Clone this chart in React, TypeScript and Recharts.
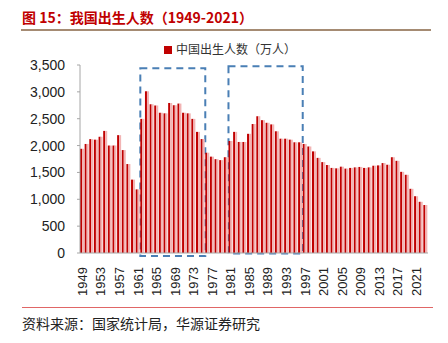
import { BarChart, Bar, XAxis, YAxis, Legend, ReferenceArea } from 'recharts'

const years = [
  '1949', '1950', '1951', '1952', '1953', '1954', '1955', '1956', '1957', '1958',
  '1959', '1960', '1961', '1962', '1963', '1964', '1965', '1966', '1967', '1968',
  '1969', '1970', '1971', '1972', '1973', '1974', '1975', '1976', '1977', '1978',
  '1979', '1980', '1981', '1982', '1983', '1984', '1985', '1986', '1987', '1988',
  '1989', '1990', '1991', '1992', '1993', '1994', '1995', '1996', '1997', '1998',
  '1999', '2000', '2001', '2002', '2003', '2004', '2005', '2006', '2007', '2008',
  '2009', '2010', '2011', '2012', '2013', '2014', '2015', '2016', '2017', '2018',
  '2019', '2020', '2021', '2022', '2023',
]

// 出生人数（万人）
const births = [
  1940, 2030, 2120, 2110, 2164, 2273, 2001, 2001, 2194, 1916,
  1656, 1366, 1184, 2497, 3011, 2769, 2746, 2611, 2600, 2793,
  2751, 2782, 2611, 2600, 2497, 2255, 2121, 1867, 1794, 1747,
  1729, 1783, 2085, 2255, 2067, 2067, 2219, 2401, 2546, 2473,
  2424, 2394, 2266, 2128, 2128, 2110, 2061, 2061, 2030, 1983,
  1892, 1771, 1692, 1638, 1584, 1576, 1607, 1571, 1584, 1594,
  1602, 1584, 1594, 1625, 1631, 1674, 1643, 1783, 1716, 1511,
  1456, 1195, 1057, 953, 893,
]

const yTicks = [0, 500, 1000, 1500, 2000, 2500, 3000, 3500]

const data = years.map((year, i) => ({ year, births: births[i] }))

const FONT = "'Liberation Sans', Arial, 'Noto Sans CJK SC', sans-serif"
const CJK = "'Noto Sans CJK SC', sans-serif"

function ShadowBar(props: any) {
  const { x, y, width, height } = props
  if (!height || height <= 0) return null
  const w1 = width * 0.5
  return (
    <g>
      <rect x={x} y={y} width={w1} height={height} fill="#c00000" />
      <rect x={x + w1} y={y} width={width - w1} height={height} fill="#f2b4b4" />
    </g>
  )
}

function YearTick(props: any) {
  const { x, y, payload } = props
  return (
    <text
      transform={`translate(${x},${y + 6}) rotate(-90)`}
      textAnchor="end"
      dominantBaseline="central"
      fontSize={13}
      fill="#222"
      fontFamily={FONT}
    >
      {payload.value}
    </text>
  )
}

export default function App() {
  return (
    <div style={{ position: 'absolute', left: 0, top: 0, width: 448, height: 343, background: '#fff', fontFamily: FONT }}>
      <div style={{ position: 'absolute', left: 22, top: 8, fontSize: 14, lineHeight: '18px', fontWeight: 'bold', color: '#c00000', fontFamily: CJK, whiteSpace: 'nowrap' }}>
        图 15：我国出生人数（1949-2021）
      </div>
      <div style={{ position: 'absolute', left: 21, top: 29, width: 410, height: 1.5, background: '#a58b73' }} />

      <div style={{ position: 'absolute', left: 0, top: 0 }}>
        <BarChart width={448} height={300} data={data} margin={{ top: 47, right: 20, left: 0, bottom: 7 }} barCategoryGap={0}>
          <XAxis
            dataKey="year"
            interval={3}
            height={40}
            tick={<YearTick />}
            tickLine={false}
            axisLine={{ stroke: '#a6a6a6' }}
          />
          <YAxis
            domain={[0, 3500]}
            ticks={yTicks}
            width={80}
            tickSize={3}
            tickMargin={12}
            tickLine={{ stroke: '#a6a6a6' }}
            axisLine={{ stroke: '#a6a6a6' }}
            tick={{ fontSize: 14, fill: '#222', fontFamily: FONT }}
            tickFormatter={(v: number) => v.toLocaleString('en-US')}
          />
          <Legend
            verticalAlign="top"
            iconType="square"
            iconSize={8}
            wrapperStyle={{ position: 'absolute', top: 40, left: 150, width: 170 }}
            formatter={(value: string) => (
              <span style={{ color: '#333', fontSize: 12, fontFamily: CJK }}>{value}</span>
            )}
          />
          <Bar
            dataKey="births"
            name="中国出生人数（万人）"
            fill="#c00000"
            barSize={4}
            shape={<ShadowBar />}
            isAnimationActive={false}
          />
          <ReferenceArea
            x1="1962"
            x2="1975"
            y1={-55}
            y2={3440}
            ifOverflow="visible"
            fill="none"
            stroke="#4a7fb5"
            strokeWidth={2}
            strokeDasharray="7 5"
          />
          <ReferenceArea
            x1="1981"
            x2="1996"
            y1={-10}
            y2={3475}
            ifOverflow="visible"
            fill="none"
            stroke="#4a7fb5"
            strokeWidth={2}
            strokeDasharray="7 5"
          />
        </BarChart>
      </div>

      <div style={{ position: 'absolute', left: 22, top: 307, width: 411, height: 1, background: '#e06666' }} />
      <div style={{ position: 'absolute', left: 22, top: 314, fontSize: 14, lineHeight: '18px', color: '#222', fontFamily: CJK, whiteSpace: 'nowrap' }}>
        资料来源：国家统计局，华源证券研究
      </div>
    </div>
  )
}
